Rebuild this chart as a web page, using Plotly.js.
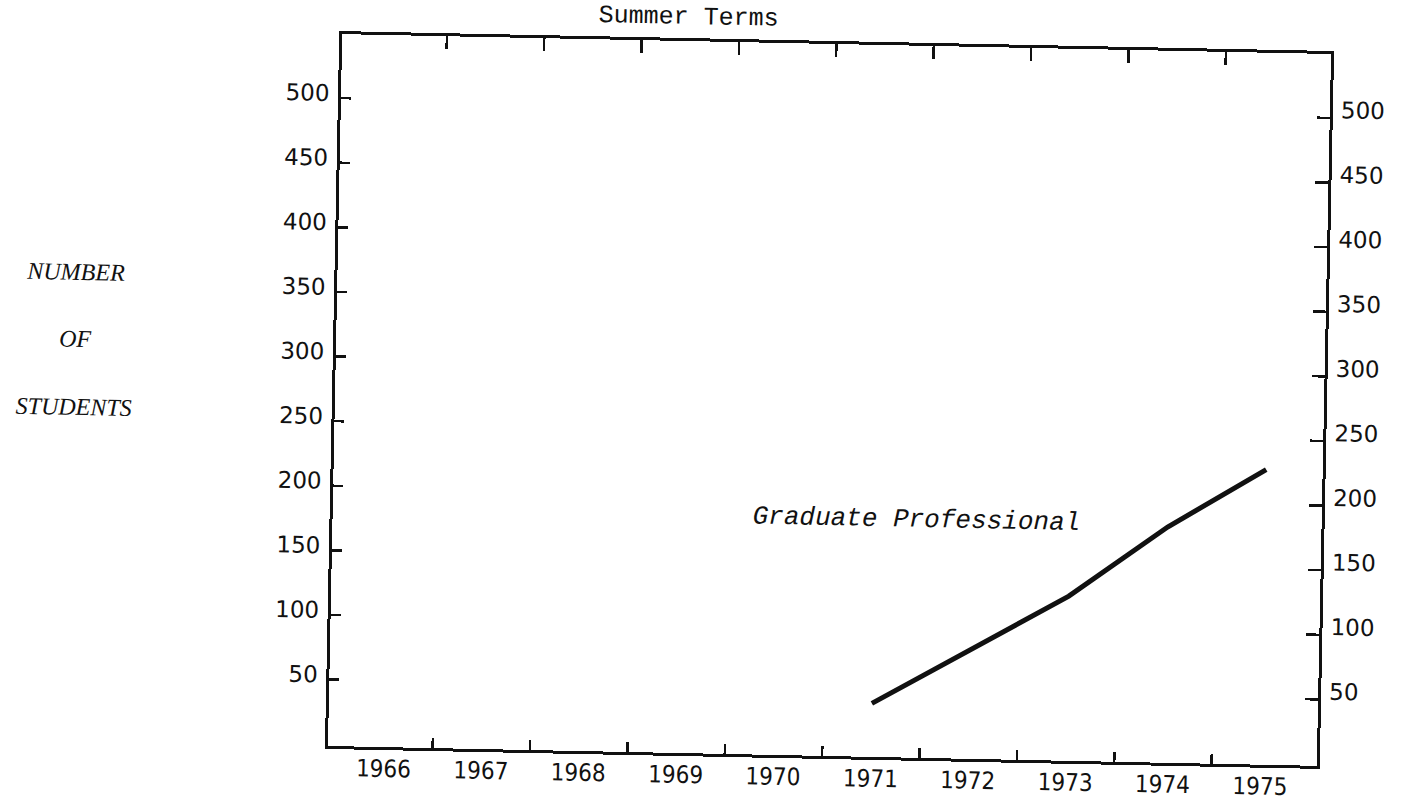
<!DOCTYPE html>
<html>
<head>
<meta charset="utf-8">
<script src="https://cdn.plot.ly/plotly-3.0.1.min.js"></script>
<style>
html,body{margin:0;padding:0;background:#fff;overflow:hidden;}
#chart{width:1404px;height:800px;transform:rotate(1.15deg);transform-origin:830px 400px;}
</style>
</head>
<body>
<div id="chart"></div>
<script>
// ---- data ----
const years = [1966, 1967, 1968, 1969, 1970, 1971, 1972, 1973, 1974, 1975];
const yearLabels = ["1966", "1967", "1968", "1969", "1970", "1971", "1972", "1973", "1974", "1975"];
const seriesYears = [1971, 1972, 1973, 1974, 1975];
const graduateProfessional = [40, 83, 126, 181, 227];
const yTickValues = [50, 100, 150, 200, 250, 300, 350, 400, 450, 500];
const yTickLabels = ["50", "100", "150", "200", "250", "300", "350", "400", "450", "500"];
const chartTitle = "Summer Terms";
const yTitleLines = ["NUMBER", "OF", "STUDENTS"];
const seriesName = "Graduate Professional";

// tick marks sit on the boundaries between year columns
const yearBoundaries = years.slice(0, -1).map(y => y + 0.5);

const ink = "#111";
const xRange = [1965.425, 1975.58];
const yRange = [-1.4, 549.5];
const tickFontY = {family: "DejaVu Sans", size: 23, color: ink};
const tickFontX = {family: "DejaVu Sans Condensed, DejaVu Sans", size: 24, color: ink};

const traces = [
  {
    type: "scatter", mode: "lines",
    x: seriesYears, y: graduateProfessional,
    name: seriesName,
    line: {color: ink, width: 5},
    hoverinfo: "x+y", showlegend: false
  },
  // carriers so the overlaid tick/label axes are drawn (they draw nothing themselves)
  {type: "scatter", mode: "none", x: seriesYears, y: graduateProfessional, xaxis: "x2", yaxis: "y", hoverinfo: "skip", showlegend: false},
  {type: "scatter", mode: "none", x: seriesYears, y: graduateProfessional, xaxis: "x3", yaxis: "y", hoverinfo: "skip", showlegend: false},
  {type: "scatter", mode: "none", x: seriesYears, y: graduateProfessional, xaxis: "x", yaxis: "y2", hoverinfo: "skip", showlegend: false}
];

const yTitleY = [0.659, 0.565, 0.469];
const annotations = yTitleLines.map((t, i) => ({
  text: t, xref: "paper", yref: "paper", x: -0.264, y: yTitleY[i],
  xanchor: "center", yanchor: "middle", showarrow: false,
  font: {family: "Liberation Serif", size: 24, color: ink, style: "italic"}
}));
annotations.push({
  text: seriesName, xref: "x", yref: "y", x: 1971.42, y: 183,
  xanchor: "center", yanchor: "middle", showarrow: false,
  font: {family: "Liberation Mono", size: 26, color: ink, style: "italic"}
});

const layout = {
  width: 1404, height: 800,
  paper_bgcolor: "#fff", plot_bgcolor: "rgba(0,0,0,0)",
  margin: {l: 335, r: 80, t: 44, b: 44},
  showlegend: false,
  title: {
    text: chartTitle,
    font: {family: "Liberation Mono", size: 25, color: ink},
    xref: "container", x: 681 / 1404, xanchor: "center",
    yref: "container", y: 1 - 18 / 800, yanchor: "middle"
  },
  xaxis: {
    range: xRange, tickmode: "array", tickvals: years, ticktext: yearLabels,
    ticks: "", showline: true, linewidth: 3, linecolor: ink, mirror: true,
    showgrid: false, zeroline: false, tickfont: tickFontX, ticklabelstandoff: -2
  },
  xaxis2: {
    overlaying: "x", side: "bottom", anchor: "y", range: xRange,
    tickmode: "array", tickvals: yearBoundaries, ticks: "inside", ticklen: 10,
    tickwidth: 2.5, tickcolor: ink, showticklabels: false, showline: false,
    showgrid: false, zeroline: false
  },
  xaxis3: {
    overlaying: "x", side: "top", anchor: "y", range: xRange,
    tickmode: "array", tickvals: yearBoundaries, ticks: "inside", ticklen: 13,
    tickwidth: 2.5, tickcolor: ink, showticklabels: false, showline: false,
    showgrid: false, zeroline: false
  },
  yaxis: {
    range: yRange, tickmode: "array", tickvals: yTickValues, ticktext: yTickLabels,
    ticks: "inside", ticklen: 10, tickwidth: 2.5, tickcolor: ink,
    showline: true, linewidth: 3, linecolor: ink, mirror: true,
    showgrid: false, zeroline: false, tickfont: tickFontY,
    ticklabelshift: -5, ticklabelstandoff: 4
  },
  yaxis2: {
    overlaying: "y", side: "right", anchor: "x", range: yRange,
    tickmode: "array", tickvals: yTickValues, ticktext: yTickLabels,
    ticks: "inside", ticklen: 13, tickwidth: 2.5, tickcolor: ink,
    showline: false, showgrid: false, zeroline: false, tickfont: tickFontY,
    ticklabelshift: -8, ticklabelstandoff: 10
  },
  annotations: annotations
};

Plotly.newPlot("chart", traces, layout, {displayModeBar: false, staticPlot: true});
</script>
</body>
</html>
